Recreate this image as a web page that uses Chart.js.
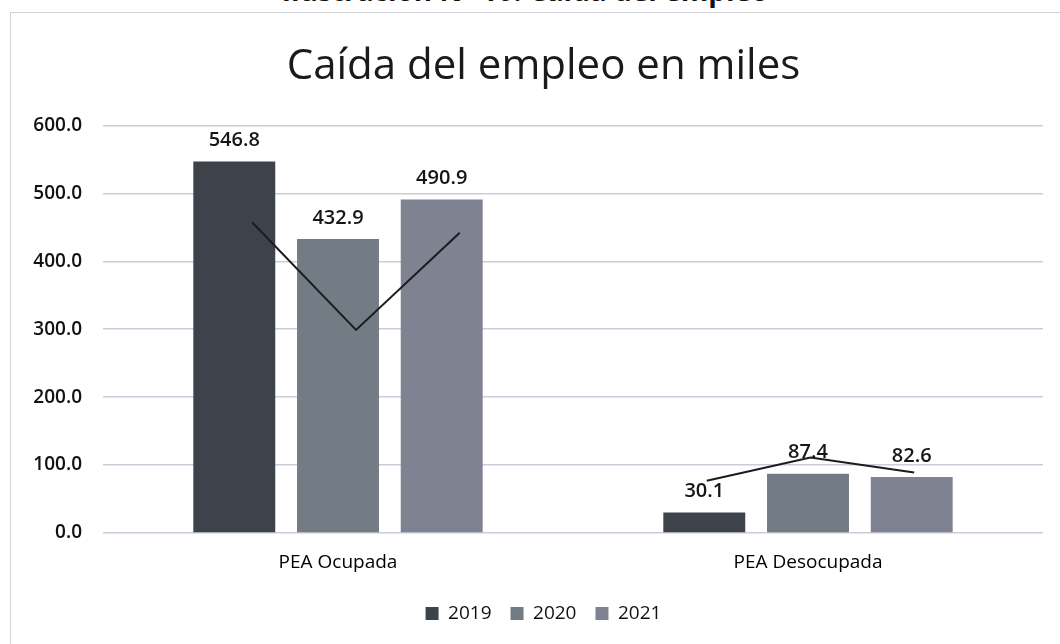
<!DOCTYPE html>
<html>
<head>
<meta charset="utf-8">
<script src="https://cdn.jsdelivr.net/npm/chart.js"></script>
<style>
html, body { margin: 0; padding: 0; background: #fff; overflow: hidden; }
#wrap { position: relative; width: 1060px; height: 644px; overflow: hidden; }
#frame { position: absolute; left: 10px; top: 12px; width: 1070px; height: 700px; border: 1.5px solid #d2d2dc; box-sizing: border-box; }
#caption { position: absolute; top: -24px; left: -5px; width: 1060px; text-align: center; font: 700 28px "Open Sans"; line-height: 28px; color: #111; white-space: nowrap; }
canvas { position: absolute; left: 0; top: 0; }
</style>
</head>
<body>
<div id="wrap">
  <div id="caption">Ilustración N° 10: Caída del empleo</div>
  <div id="frame"></div>
  <canvas id="graph" width="1060" height="644"></canvas>
</div>
<script>
// datos
const categories = ["PEA Ocupada", "PEA Desocupada"];
const years = ["2019", "2020", "2021"];
const values2019 = [546.8, 30.1];
const values2020 = [432.9, 87.4];
const values2021 = [490.9, 82.6];
// linea negra trazada sobre cada grupo (2019 -> 2020 -> 2021)
const trendOcupada = [457, 299, 442];
const trendDesocupada = [77, 111, 89];
const yTicks = [0, 100, 200, 300, 400, 500, 600];

const colors = ["#3e434b", "#737c84", "#7e8291"];
const trends = [trendOcupada, trendDesocupada];
const trendShift = [0.22, 0.03];

const overlay = {
    id: "overlay",
    afterDatasetsDraw(chart) {
        const ctx = chart.ctx;
        const yScale = chart.scales.y;
        ctx.save();
        ctx.font = '600 20px "Open Sans"';
        ctx.fillStyle = "#161616";
        ctx.textAlign = "center";
        ctx.textBaseline = "middle";
        chart.data.datasets.forEach((ds, i) => {
            chart.getDatasetMeta(i).data.forEach((bar, j) => {
                ctx.fillText(ds.data[j].toFixed(1), bar.x, bar.y - 21);
            });
        });
        ctx.strokeStyle = "#1c1c1c";
        ctx.lineWidth = 2;
        trends.forEach((vals, j) => {
            ctx.beginPath();
            vals.forEach((v, i) => {
                const bar = chart.getDatasetMeta(i).data[j];
                const px = bar.x + trendShift[j] * bar.width;
                const py = yScale.getPixelForValue(v);
                if (i == 0) ctx.moveTo(px, py); else ctx.lineTo(px, py);
            });
            ctx.stroke();
        });
        ctx.restore();
    }
};

const ctx = document.getElementById("graph").getContext("2d");
let myChart = new Chart(ctx, {
    type: "bar",
    data: {
        labels: categories,
        datasets: [
            { label: years[0], data: values2019, backgroundColor: colors[0] },
            { label: years[1], data: values2020, backgroundColor: colors[1] },
            { label: years[2], data: values2021, backgroundColor: colors[2] }
        ]
    },
    plugins: [overlay],
    options: {
        responsive: false,
        animation: false,
        categoryPercentage: 0.662,
        barPercentage: 0.79,
        layout: { padding: { top: 20, left: 44, right: 17, bottom: 11 } },
        plugins: {
            title: {
                display: true,
                text: "Caída del empleo en miles",
                color: "#1a1a1a",
                font: { family: "Open Sans", size: 42, weight: "400" },
                padding: { top: 22, bottom: 33 }
            },
            legend: {
                position: "bottom",
                labels: {
                    boxWidth: 13,
                    boxHeight: 13,
                    padding: 19,
                    color: "#111",
                    font: { family: "Open Sans", size: 19 }
                }
            },
            tooltip: { enabled: false }
        },
        scales: {
            x: {
                grid: { display: false },
                border: { display: false },
                ticks: { color: "#000", padding: -4, font: { family: "Open Sans", size: 19, lineHeight: "52px" } }
            },
            y: {
                min: 0,
                max: 600,
                afterBuildTicks: s => { s.ticks = yTicks.map(v => ({ value: v })); },
                afterFit: s => {
                    s.width = 59;
                    s._computeLabelArea = () => undefined; // no recortar las etiquetas
                },
                ticks: {
                    color: "#111",
                    padding: 21,
                    font: { family: "Open Sans", size: 19, weight: "600" },
                    callback: v => v.toFixed(1)
                },
                grid: { color: "#cbcbd9", lineWidth: 1.5, drawTicks: false },
                border: { display: false }
            }
        }
    }
});
</script>
</body>
</html>
